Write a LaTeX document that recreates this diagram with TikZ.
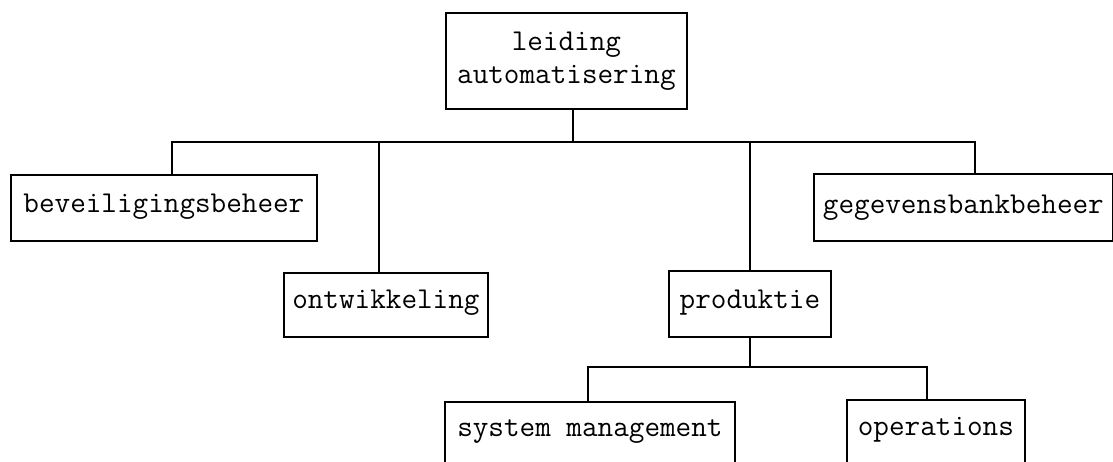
\documentclass[tikz,border=0pt]{standalone}
\begin{document}
\begin{tikzpicture}[x=1pt,y=-1pt,
  unit/.style={draw, line width=1.8pt, rectangle, inner sep=0pt, anchor=north west,
    font=\ttfamily\fontsize{30.3}{33}\selectfont},
  link/.style={line width=1.8pt}]
\useasboundingbox (0,0) rectangle (1113,461);
\clip (0,0) rectangle (1113,461);

% units
\node[unit, align=center, minimum width=241pt, minimum height=96pt] (top) at (445,12) {leiding\\automatisering};
\node[unit, minimum width=306pt, text height=38pt, text depth=28pt] (bev) at (10,174) {beveiligingsbeheer};
\node[unit, minimum width=204pt, text height=36pt, text depth=28pt] (ont) at (283,272) {ontwikkeling};
\node[unit, minimum width=162pt, text height=38pt, text depth=28pt] (prod) at (668,270) {produktie};
\node[unit, minimum width=299pt, text height=40pt, text depth=27pt] (geg) at (813,173) {gegevensbankbeheer};
\node[unit, minimum width=290pt, text height=35pt, text depth=90pt] (sys) at (444,401) {system management};
\node[unit, minimum width=178pt, text height=36pt, text depth=90pt] (ops) at (846,399) {operations};

% junction points of the two buses
\coordinate (j0) at (573,142);
\coordinate (d1) at (172,142);
\coordinate (d2) at (379,142);
\coordinate (d3) at (750,142);
\coordinate (d4) at (975,142);
\coordinate (e0) at (750,367);
\coordinate (e1) at (588,367);
\coordinate (e2) at (927,367);

% first level
\draw[link] (top.south -| j0) -- (j0);
\draw[link] (bev.north -| d1) -- (d1) -- (d4) -- (geg.north -| d4);
\draw[link] (d2) -- (ont.north -| d2);
\draw[link] (d3) -- (prod.north -| d3);

% second level
\draw[link] (prod.south -| e0) -- (e0);
\draw[link] (sys.north -| e1) -- (e1) -- (e2) -- (ops.north -| e2);
\end{tikzpicture}
\end{document}
